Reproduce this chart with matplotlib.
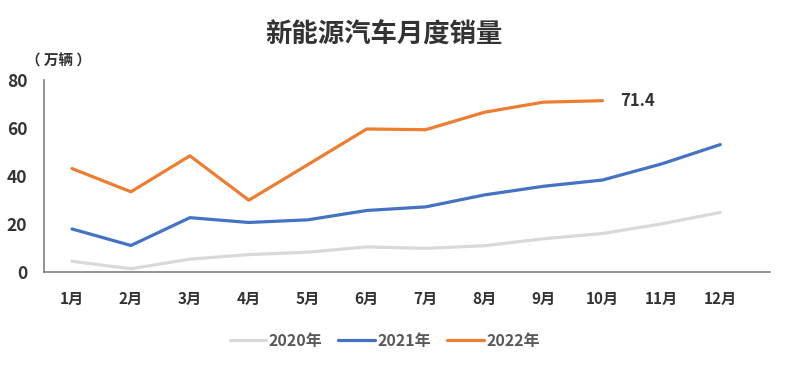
import matplotlib.pyplot as plt

plt.rcParams['font.family'] = ['Noto Sans CJK SC', 'DejaVu Sans']

months = ['1月', '2月', '3月', '4月', '5月', '6月', '7月', '8月', '9月', '10月', '11月', '12月']
sales_2020 = [4.4, 1.3, 5.3, 7.2, 8.2, 10.4, 9.8, 10.9, 13.8, 16.0, 20.0, 24.8]
sales_2021 = [17.9, 11.0, 22.6, 20.6, 21.7, 25.6, 27.1, 32.1, 35.7, 38.3, 45.0, 53.1]
sales_2022 = [43.1, 33.4, 48.4, 29.9, 44.7, 59.6, 59.3, 66.6, 70.8, 71.4]

fig = plt.figure(figsize=(8, 3.76), dpi=100)
ax = fig.add_axes([0.055, 0.277, 0.908, 0.51])

x = list(range(1, 13))
ax.plot(x, sales_2020, color='#D9D9D9', lw=2.3, label='2020年', solid_capstyle='round')
ax.plot(x, sales_2021, color='#4472C4', lw=2.3, label='2021年', solid_capstyle='round')
ax.plot(x[:len(sales_2022)], sales_2022, color='#ED7D31', lw=2.3, label='2022年', solid_capstyle='round')

ax.annotate(f'{sales_2022[-1]}', (len(sales_2022), sales_2022[-1]), xytext=(13, 0),
            textcoords='offset points', va='center', ha='left',
            fontsize=12, fontweight='heavy', color='#333333')

ax.set_xlim(0.525, 12.85)
ax.set_ylim(0, 80)
ax.set_yticks([0, 20, 40, 60, 80])
ax.set_xticks(x)
ax.set_xticklabels(months)
ax.tick_params(axis='x', length=0, labelsize=11, colors='#333333', pad=14)
ax.tick_params(axis='y', length=0, labelsize=12.5, colors='#333333', pad=12)
for lab in ax.get_xticklabels() + ax.get_yticklabels():
    lab.set_fontweight('heavy')

for s in ['top', 'right']:
    ax.spines[s].set_visible(False)
for s in ['left', 'bottom']:
    ax.spines[s].set_color('#808080')
    ax.spines[s].set_linewidth(1.2)

fig.text(0.48, 0.907, '新能源汽车月度销量', ha='center', va='center',
         fontsize=19, fontweight='heavy', color='#333333')
fig.text(0.033, 0.84, '（ 万辆 ）', ha='left', va='center',
         fontsize=10.5, fontweight='heavy', color='#333333')

leg = fig.legend(loc='center', bbox_to_anchor=(0.481, 0.093), ncol=3, frameon=False,
                 handlelength=2.3, handletextpad=0.15, columnspacing=1.0,
                 prop={'weight': 'heavy', 'size': 11.5})
for t in leg.get_texts():
    t.set_color('#595959')

fig.savefig('out.png', dpi=100)
